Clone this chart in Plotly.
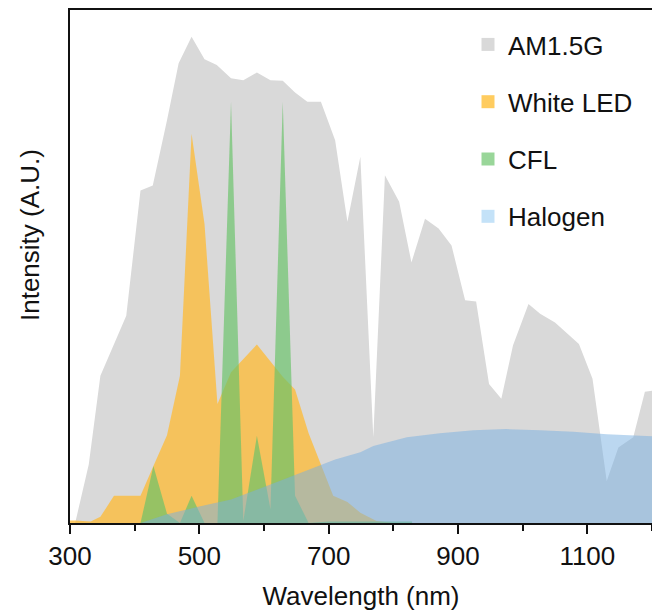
import plotly.graph_objects as go

# ---- data ----
am_wl = [308, 329, 347, 387, 409, 428, 450, 468, 488, 508, 527, 549, 568, 589, 610, 629,
         648, 667, 688, 710, 729, 749, 769, 787, 809, 828, 849, 870, 890, 911, 928, 948,
         967, 985, 1009, 1027, 1050, 1087, 1108, 1130, 1148, 1171, 1189, 1200]
am_int = [0, 11.4, 28.7, 40.4, 64.8, 65.8, 78.5, 89.6, 94.8, 90.4, 89.3, 86.7, 86.3, 87.8,
          86.3, 86.2, 83.9, 82.1, 82.1, 74.6, 58.7, 71.4, 16.7, 67.8, 62.6, 50.8, 59.3, 57.4,
          54.1, 43.4, 43.2, 27.1, 24.2, 34.6, 42.7, 40.8, 39.1, 34.9, 28.1, 8.2, 14.7, 16.7,
          25.6, 25.8]

led_wl = [300, 308, 332, 347, 368, 409, 429, 450, 470, 488, 508, 528, 549, 589, 629, 648,
          669, 688, 707, 729, 749, 774, 800]
led_int = [0.5, 0.5, 0.3, 1.2, 5.3, 5.3, 11.1, 17.1, 28.7, 75.9, 58.3, 23.2, 29.4, 34.8,
           28.5, 26.0, 17.5, 11.5, 5.3, 4.1, 2.0, 0.4, 0]

cfl_wl = [409, 429, 450, 470, 488, 508, 528, 549, 568, 589, 610, 629, 648, 669, 700, 829]
cfl_int = [0, 11.1, 1.8, 0, 5.3, 0, 0, 82.1, 0.4, 17.0, 2.7, 82.1, 5.3, 0, 0.3, 0.3]

hal_wl = [409, 450, 500, 549, 600, 648, 669, 710, 749, 769, 821, 872, 924, 975, 1027,
          1078, 1130, 1181, 1200]
hal_int = [0, 1.7, 3.2, 4.6, 7.0, 9.4, 10.4, 12.4, 13.8, 15.0, 16.7, 17.5, 18.1, 18.3,
           18.1, 17.8, 17.3, 17.0, 16.9]

names = ["AM1.5G", "White LED", "CFL", "Halogen"]
x_major = [300, 500, 700, 900, 1100]

fill_colors = ["rgb(217,217,217)", "rgba(255,186,48,0.74)",
               "rgba(105,195,105,0.68)", "rgba(120,175,225,0.5)"]
legend_colors = ["rgb(217,217,217)", "rgb(255,204,95)", "rgb(153,214,153)", "rgb(196,226,248)"]

FONT = "Liberation Sans, Arial, sans-serif"

fig = go.Figure()
series = [(am_wl, am_int), (led_wl, led_int), (cfl_wl, cfl_int), (hal_wl, hal_int)]
for (wl, it), nm, fc in zip(series, names, fill_colors):
    fig.add_trace(go.Scatter(x=wl, y=it, name=nm, mode="lines", fill="tozeroy",
                             fillcolor=fc, line=dict(width=0, color=fc),
                             showlegend=False, hoverinfo="x+y+name"))

# legend entries (square swatches)
for i, (nm, lc) in enumerate(zip(names, legend_colors)):
    fig.add_trace(go.Scatter(x=[None], y=[None], name=nm, mode="markers",
                             marker=dict(symbol="square", size=13, color=lc),
                             legendgroup=f"g{i}", showlegend=True))

L, T, B = 70, 10, 90
W, H = 652, 613
pw, ph = W - L, H - T - B

fig.update_layout(
    width=W, height=H,
    margin=dict(l=L, r=0, t=T, b=B, pad=0),
    paper_bgcolor="white", plot_bgcolor="white",
    font=dict(family=FONT, size=26, color="#111"),
    showlegend=True,
    legend=dict(x=(468 - L) / pw, y=(H - B - 21) / ph, xanchor="left", yanchor="top",
                bgcolor="rgba(0,0,0,0)", tracegroupgap=20.5, itemwidth=30,
                font=dict(family=FONT, size=26, color="#111")),
    xaxis=dict(range=[300, 1200], tickvals=x_major, ticks="outside", ticklen=9,
               tickwidth=2, tickcolor="#111", showline=True, linewidth=2,
               linecolor="#111", mirror=True, showgrid=False, zeroline=False,
               minor=dict(dtick=100, tick0=300, ticks="outside", ticklen=6,
                          tickwidth=2, tickcolor="#111", showgrid=False),
               title=dict(text="Wavelength (nm)", standoff=17,
                          font=dict(family=FONT, size=26, color="#111")),
               tickfont=dict(family=FONT, size=26, color="#111")),
    yaxis=dict(range=[0, 100], showticklabels=False, ticks="", showline=True,
               linewidth=2, linecolor="#111", mirror=False, showgrid=False,
               zeroline=False),
    annotations=[dict(text="Intensity (A.U.)", xref="paper", yref="paper",
                      x=(30 - L) / pw, y=(H - B - 235) / ph, xanchor="center",
                      yanchor="middle", textangle=-90, showarrow=False,
                      font=dict(family=FONT, size=26, color="#111"))],
)

fig.write_html("out.html", config={"displayModeBar": False},
               post_script="document.body.style.margin='0';"
                           "document.body.style.overflow='hidden';")
